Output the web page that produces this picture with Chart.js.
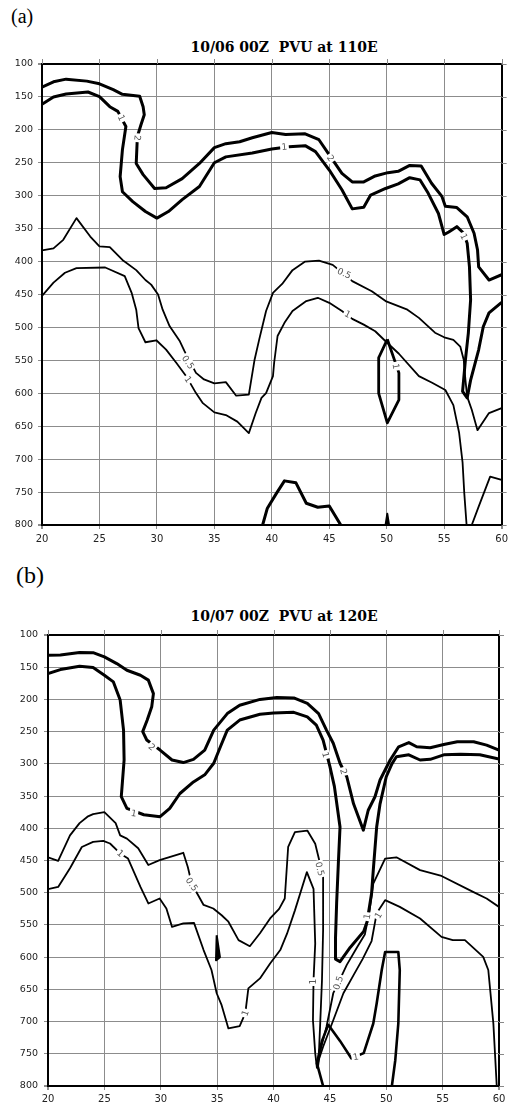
<!DOCTYPE html>
<html>
<head>
<meta charset="utf-8">
<script src="https://cdn.jsdelivr.net/npm/chart.js@4.4.1/dist/chart.umd.min.js"></script>
<style>
  body { margin: 0; background: #fff; width: 512px; height: 1106px; position: relative; overflow: hidden; }
  .panel { position: absolute; left: 0; width: 512px; }
  .tag { position: absolute; font-family: "Liberation Serif", serif; color: #000; line-height: 1; }
  .ttl { position: absolute; left: 84px; width: 400px; text-align: center; white-space: pre;
         font: bold 14px "DejaVu Serif", serif; line-height: 16px; color: #000; }
</style>
</head>
<body>
<div class="tag" style="left:11px; top:6px; font-size:20px;">(a)</div>
<div class="ttl" style="top:39px;">10/06 00Z  PVU at 110E</div>
<div class="panel" style="top:0; height:555px;"><canvas id="chartA"></canvas></div>

<div class="tag" style="left:16px; top:563px; font-size:24px;">(b)</div>
<div class="ttl" style="top:608px;">10/07 00Z  PVU at 120E</div>
<div class="panel" style="top:575px; height:531px;"><canvas id="chartB"></canvas></div>

<script>
// axis ticks
const latTicks = [20, 25, 30, 35, 40, 45, 50, 55, 60];
const presTicks = [100, 150, 200, 250, 300, 350, 400, 450, 500, 550, 600, 650, 700, 750, 800];

// ---- panel (a): 10/06 00Z at 110E, contour paths as [lat, hPa] ----
const a_pv2 = [[20,135],[21,127],[22.1,123],[23.9,126],[25,130],[26.2,139],[27,146],[28.5,149],[28.8,165],[28.9,177],[28.6,193],[28.3,210],[28.2,251],[28.8,268],[29.8,289],[30.8,288],[32.2,274],[33.7,251],[35,227],[36,221],[37.2,218],[38.3,212],[40,204],[41.2,207],[42.9,206],[44.1,215],[45,238],[46.1,266],[47,279],[48,279],[49,270],[50.1,265],[51,263],[52,254],[53,255],[53.9,281],[54.8,301],[55.1,316],[56.1,318],[57,332],[57.6,357],[57.9,382],[58,408],[58.9,428],[60,420]];
const a_pv1 = [[20,161],[21,150],[22.1,145.5],[24,142.5],[25,149.6],[25.9,164.8],[26.6,172],[27.3,195],[27,230],[26.8,271],[27,294],[27.9,309],[29,324],[30,334],[31,324],[32.2,306],[33.7,286],[35,250],[36,241],[38.3,235],[40,229],[41.5,225.5],[42.9,224],[43.8,233],[45,261],[46.1,291],[47,320],[48,317.6],[48.6,299],[49.9,289],[51,282],[52,272.6],[52.9,276],[53.6,296],[54.5,327],[55,359],[55.4,355],[56.1,347],[56.7,357],[57,372],[57.2,408],[57.3,458],[57.1,509],[56.85,549],[56.6,597],[57,607],[57.3,580],[58,534],[58.4,499],[58.9,478],[60,462]];
const a_pv05 = [[20,383],[21,380],[21.85,367],[23,334],[24.2,362],[25,377],[25.9,378],[27,397.6],[28.2,413],[29,428],[29.5,435],[30.1,450],[30.5,473],[31.1,498],[32,521],[32.4,536],[33.4,569],[34.1,579],[35,585],[36,583],[36.9,603.7],[38,602],[38.5,549],[38.9,518.5],[39.5,475],[40.1,447.5],[40.9,434],[41.8,413],[42.9,400],[44.1,398.6],[45.3,405],[47,429.7],[48.7,445],[49.9,460],[51.8,473],[52.8,485.5],[54.2,508],[55,515],[55.8,519],[56.4,529],[56.7,549],[56.85,580],[57,605],[57.4,625],[57.9,656],[58.9,630],[60,622.5]];
const a_pv1low = [[20,452],[21,432],[22,417],[23,410],[25.5,409],[25.9,412],[27.2,422],[27.8,447.5],[28.2,473],[28.4,501],[29,522.5],[29.95,519.5],[30.8,533.7],[31.7,554],[32.55,574],[33.4,599.7],[34,615],[35,629],[36,633],[37,643],[38,660.5],[38.6,630],[39.1,607],[39.5,599.7],[40.1,574],[40.2,554],[40.5,513],[41.1,493],[41.8,475],[43,460],[44,455],[45,462.7],[46.1,475],[47,487],[48,495.7],[49,505.8],[49.9,521],[51.06,540],[52.8,574],[53.95,584],[55.1,595],[55.8,618],[56.3,660],[56.6,705],[56.75,752],[56.95,800]];
const a_loop = [[50.05,518],[49.3,546],[49.3,600],[50.05,645],[51.06,610],[51.06,569],[50.05,518]];
const a_bump = [[39.2,800],[39.6,775],[40.4,752],[41.1,733],[42.1,736],[43,767],[44,773],[45,771],[46,800]];
const a_spike = [[49.9,800],[50.05,783],[50.2,800],[49.9,800]];
const a_pv05low = [[57.4,800],[58,772],[59,726.5],[60,731.6]];
const a_labels = [
  { x: 26.9, y: 182, t: '1', r: 65 }, { x: 28.3, y: 212, t: '2', r: 95 },
  { x: 41.1, y: 226, t: '1', r: -5 }, { x: 45.1, y: 243, t: '2', r: 55 },
  { x: 56.7, y: 362, t: '1', r: 65 }, { x: 46.3, y: 418, t: '0.5', r: 25 },
  { x: 46.6, y: 480, t: '1', r: 27 }, { x: 32.7, y: 553, t: '0.5', r: 55 },
  { x: 32.7, y: 579, t: '1', r: 55 }, { x: 50.8, y: 559, t: '1', r: 80 }
];

// ---- panel (b): 10/07 00Z at 120E ----
const b_pv2 = [[20,131.5],[21.1,131],[22.8,127],[24,127.4],[25,134],[26.1,144.4],[27,154.7],[28.2,162.5],[28.9,170],[29.35,191],[29.2,211.5],[28.8,232],[28.4,250],[28.76,263],[29.94,278.6],[31,294],[32,298],[32.9,293],[33.9,278.6],[34.7,247.6],[35.9,222],[37,209],[38.8,200],[40.3,197],[41.8,197.6],[43,206],[44,222],[44.7,247.6],[45.3,268],[45.9,299],[46.5,320],[47.1,362],[47.97,403],[48.4,372],[49,351],[49.45,325],[50.35,294],[51.1,273.5],[52,267],[52.7,273.5],[53.9,275],[55.1,270],[56.3,265.7],[57.75,265.7],[58.9,271],[60,278.6]];
const b_pv1 = [[20,160],[21.1,153.7],[22.8,148.5],[24,150.6],[25,162.5],[25.8,172.8],[26.4,201],[26.7,247.6],[26.75,294],[26.5,351],[27,369],[28.5,379],[29.94,382],[30.8,369],[31.7,346],[32.9,328],[33.9,317],[34.7,299],[35.3,273],[35.9,247.6],[37,232],[38.8,223],[40,221],[41.8,220],[43,227],[43.8,240],[44.4,263],[45,304],[45.4,335],[45.9,398],[45.75,455],[45.6,516],[45.5,570],[45.5,603],[45.9,607],[46.8,585],[48,560],[48.3,545],[48.7,501],[48.85,465],[49.15,398],[49.45,362],[50,320],[50.5,300],[50.9,289],[52,286],[53,294],[53.9,293],[55.1,286],[56.6,285],[58.3,286],[60,292.6]];
const b_pv05 = [[20,445],[20.9,450.6],[21.95,411],[22.8,392],[23.5,382],[24,378],[25,375],[26,392],[26.4,411],[27,416],[28,431],[28.9,457],[29.9,449.5],[32,438],[32.4,460],[32.75,486],[33.8,519],[34.66,524.5],[35.4,535],[36,545],[36.9,573.6],[37.9,583],[38.8,563],[39.7,540],[40.5,525],[41,509],[41.3,429],[41.9,406],[43,403.5],[43.7,424],[44.1,452.6],[44.4,476],[44.4,558],[44.3,636],[44.15,700],[44.05,740],[43.95,770],[44.1,749],[44.7,708],[45.3,656],[45.75,640],[46.5,612],[47.4,585],[48.1,565],[48.5,530],[48.85,486],[49.9,447],[50.9,445],[53,465],[54.9,474],[57.7,498.7],[58.9,509],[60,522]];
const b_pv1low = [[20,494.5],[20.9,491],[21.95,462],[23,429],[24,421],[24.9,419.6],[25.5,423.6],[26.4,439],[27.1,447],[28.2,491],[28.9,516.7],[29.9,509],[30.5,524.5],[31,553],[32,547.7],[32.95,546.8],[33.8,589],[34.5,620],[34.96,656],[35.4,674.5],[36,710.6],[37,707],[37.5,687],[37.77,648.5],[38.8,633],[39.7,609.8],[40.6,589],[41.2,563.6],[41.9,527.4],[42.96,468],[43.55,494],[43.7,579],[43.55,636],[43.5,698],[43.7,749],[43.85,772],[44,760],[44.4,739],[45.3,698],[46.2,656],[47.1,628],[47.9,603],[48.7,575],[49.15,532],[49.9,511.6],[51.2,522],[53,540],[54.9,568.5],[55.9,573.6],[56.98,573.6],[58.6,599.5],[59.05,620],[59.5,702.8],[59.8,800]];
const b_loop = [[44.4,800],[43.85,765],[44.3,730],[44.86,705],[45.9,730],[46.9,757],[48,749],[48.85,703],[49.15,672],[49.6,620],[49.9,592],[51.07,592],[51.2,620],[51.07,703],[50.8,760],[50.5,800]];
const b_spike = [[34.96,566],[34.9,605],[35.25,600],[34.96,566]];
const b_labels = [
  { x: 29.2, y: 274, t: '2', r: 40 }, { x: 27.6, y: 377, t: '1', r: 10 },
  { x: 44.6, y: 286, t: '1', r: 75 }, { x: 46.2, y: 312, t: '2', r: 75 },
  { x: 26.4, y: 439, t: '1', r: 40 }, { x: 32.75, y: 487, t: '0.5', r: 55 },
  { x: 37.5, y: 687, t: '1', r: -70 }, { x: 44.1, y: 463, t: '0.5', r: 75 },
  { x: 43.55, y: 638, t: '1', r: -90 }, { x: 45.75, y: 640, t: '0.5', r: -72 },
  { x: 48.3, y: 537, t: '1', r: -80 }, { x: 49.3, y: 535, t: '1', r: -60 },
  { x: 47.3, y: 755, t: '1', r: -10 }
];

const pts = arr => arr.map(([x, y]) => ({ x, y }));
const line = (arr, w, filled) => ({
  data: pts(arr), showLine: true, pointRadius: 0, borderColor: '#000', borderWidth: w,
  borderJoinStyle: 'round', backgroundColor: '#000', fill: filled ? 'shape' : false
});

// short ticks on the top and right frame, contour labels with white gap
const framePlugin = {
  id: 'frame',
  afterDraw(chart) {
    const { ctx, chartArea: a, scales: { x, y } } = chart;
    ctx.save();
    ctx.strokeStyle = '#888';
    ctx.lineWidth = 1;
    ctx.beginPath();
    x.ticks.forEach(t => { const p = Math.round(x.getPixelForValue(t.value)) + 0.5; ctx.moveTo(p, a.top - 5); ctx.lineTo(p, a.top); });
    y.ticks.forEach(t => { const p = Math.round(y.getPixelForValue(t.value)) + 0.5; ctx.moveTo(a.right, p); ctx.lineTo(a.right + 5, p); });
    ctx.stroke();
    ctx.restore();
  }
};
const labelPlugin = {
  id: 'contourLabels',
  afterDatasetsDraw(chart, args, opts) {
    const { ctx, scales: { x, y } } = chart;
    ctx.save();
    ctx.font = '9px "DejaVu Sans", sans-serif';
    ctx.textAlign = 'center';
    ctx.textBaseline = 'middle';
    opts.items.forEach(l => {
      const px = x.getPixelForValue(l.x), py = y.getPixelForValue(l.y);
      const w = ctx.measureText(l.t).width + 3;
      ctx.save();
      ctx.translate(px, py);
      ctx.rotate(l.r * Math.PI / 180);
      ctx.fillStyle = '#fff';
      ctx.fillRect(-w / 2, -5, w, 10);
      ctx.fillStyle = '#555';
      ctx.fillText(l.t, 0, 0.5);
      ctx.restore();
    });
    ctx.restore();
  }
};

const edge = (v, lo, hi, a, b) => (v === lo || v === hi) ? a : b;

function makeChart(id, sets, labels, box) {
  return new Chart(document.getElementById(id), {
    type: 'scatter',
    data: { datasets: sets },
    plugins: [framePlugin, labelPlugin],
    options: {
      responsive: true,
      maintainAspectRatio: false,
      animation: false,
      events: [],
      layout: { padding: { top: box.top, right: box.right, left: 0, bottom: 0 } },
      plugins: { legend: { display: false }, tooltip: { enabled: false }, contourLabels: { items: labels } },
      scales: {
        x: {
          type: 'linear', min: 20, max: 60,
          afterBuildTicks: s => { s.ticks = latTicks.map(v => ({ value: v })); },
          afterFit: s => { s.height = box.xh; },
          ticks: { color: '#222', padding: box.xpad, font: { family: '"DejaVu Sans", sans-serif', size: 10 } },
          grid: {
            color: c => edge(c.tick && c.tick.value, 20, 60, '#000', '#8c8c8c'),
            lineWidth: c => edge(c.tick && c.tick.value, 20, 60, 2, 1),
            tickColor: '#8c8c8c', tickLength: 4
          },
          border: { display: true, color: '#000', width: 2 }
        },
        y: {
          type: 'linear', min: 100, max: 800, reverse: true,
          afterBuildTicks: s => { s.ticks = presTicks.map(v => ({ value: v })); },
          afterFit: s => { s.width = box.yw; },
          ticks: { color: '#222', padding: box.ypad, font: { family: '"DejaVu Sans", sans-serif', size: 9.5 } },
          grid: {
            color: c => edge(c.tick && c.tick.value, 100, 800, '#000', '#8c8c8c'),
            lineWidth: c => edge(c.tick && c.tick.value, 100, 800, 2, 1),
            tickColor: '#8c8c8c', tickLength: 4
          },
          border: { display: true, color: '#000', width: 2 }
        }
      }
    }
  });
}

makeChart('chartA', [
  line(a_pv2, 3), line(a_pv1, 3), line(a_pv05, 1.8), line(a_pv1low, 1.8),
  line(a_loop, 2.8), line(a_bump, 3), line(a_spike, 2, true), line(a_pv05low, 1.8)
], a_labels, { top: 64, right: 9, xh: 30, yw: 42, xpad: 4, ypad: 5 });

makeChart('chartB', [
  line(b_pv2, 3), line(b_pv1, 3), line(b_pv05, 1.8), line(b_pv1low, 1.8),
  line(b_loop, 2.6), line(b_spike, 2, true)
], b_labels, { top: 60, right: 13, xh: 20, yw: 48, xpad: 3, ypad: 6 });
</script>
</body>
</html>
